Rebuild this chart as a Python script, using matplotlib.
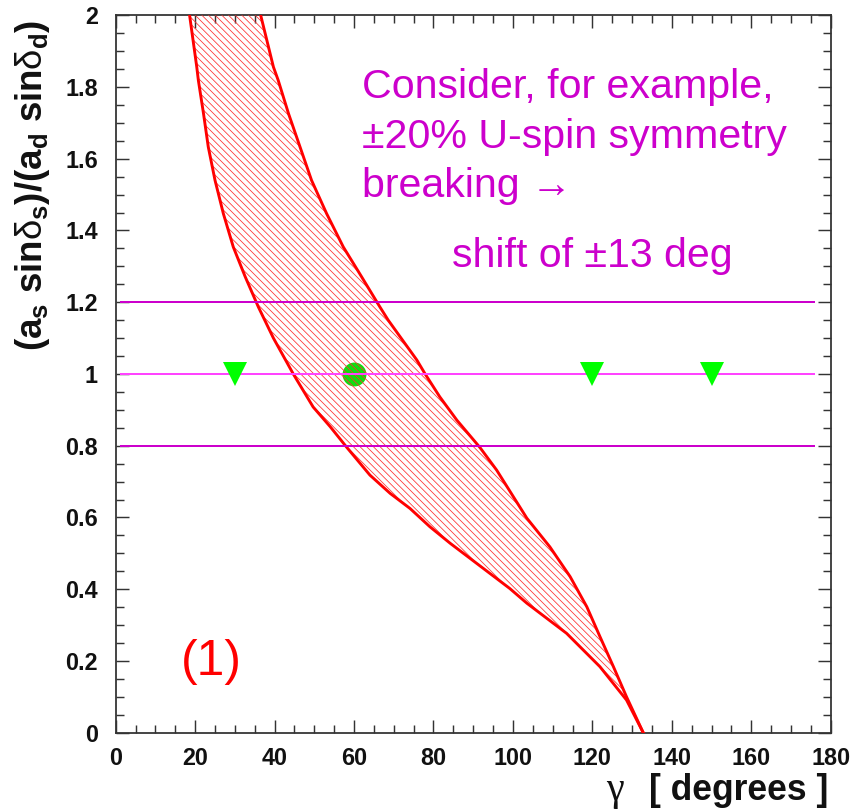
import matplotlib
matplotlib.use("Agg")
import matplotlib.pyplot as plt
from matplotlib.ticker import MultipleLocator

# ---------------- data ----------------
# lower-gamma edge of the band: ratio values and gamma values (degrees)
low_ratio = [2.0, 1.856, 1.819, 1.726, 1.633, 1.540, 1.447, 1.354, 1.271, 1.187,
             1.1, 1.0, 0.908, 0.853, 0.795, 0.718, 0.667, 0.625, 0.574, 0.528,
             0.486, 0.444, 0.402, 0.361, 0.277, 0.184, 0.091, 0.0]
low_gamma = [18.6, 20.4, 20.8, 22.1, 23.3, 25.0, 27.1, 29.6, 32.6, 35.9,
             39.7, 44.7, 49.7, 54.0, 58.2, 64.0, 69.1, 74.1, 79.1, 84.2,
             89.2, 94.2, 99.2, 103.5, 113.5, 121.9, 128.6, 132.8]
# upper-gamma edge of the band
high_ratio = [2.0, 1.856, 1.819, 1.726, 1.633, 1.540, 1.447, 1.354, 1.271, 1.187,
              1.150, 1.039, 1.0, 0.936, 0.871, 0.795, 0.732, 0.598, 0.518, 0.435,
              0.351, 0.268, 0.184, 0.100, 0.0]
high_gamma = [36.5, 39.7, 40.9, 43.5, 46.4, 49.3, 53.1, 57.3, 61.9, 66.5,
              68.6, 75.8, 77.9, 81.6, 85.9, 91.7, 95.9, 103.5, 109.3, 114.4,
              118.6, 121.9, 125.3, 128.6, 132.8]

band_levels = [1.2, 1.0, 0.8]
band_xrange = [1.0, 176.0]
tri_gamma = [30, 120, 150]
tri_ratio = [1.0, 1.0, 1.0]
dot_gamma = [60]
dot_ratio = [1.0]

xticks = [0, 20, 40, 60, 80, 100, 120, 140, 160, 180]
yticks = [0, 0.2, 0.4, 0.6, 0.8, 1.0, 1.2, 1.4, 1.6, 1.8, 2.0]
yticklabels = ["0", "0.2", "0.4", "0.6", "0.8", "1", "1.2", "1.4", "1.6", "1.8", "2"]

note_lines = ["Consider, for example,", "\u00b120% U-spin symmetry", "breaking \u2192"]
note_last = "shift of \u00b113 deg"

# ---------------- style ----------------
DPI = 80
plt.rcParams['font.family'] = ['Liberation Sans', 'DejaVu Sans']
plt.rcParams['mathtext.fontset'] = 'custom'
plt.rcParams['mathtext.rm'] = 'Liberation Sans:bold'
plt.rcParams['mathtext.bf'] = 'Liberation Sans:bold'
plt.rcParams['mathtext.it'] = 'Liberation Sans'
plt.rcParams['hatch.linewidth'] = 0.7

fig = plt.figure(figsize=(854 / DPI, 812 / DPI), dpi=DPI)
ax = fig.add_axes([0.1355, 0.0977, 0.9727 - 0.1355, 0.9812 - 0.0977])

magenta = '#cc00cc'
pink = '#ff44ff'

# green dot (under hatching)
ax.plot(dot_gamma, dot_ratio, 'o', color='#11dd11', markersize=21.5,
        markeredgewidth=0, zorder=2)

# hatched band
poly_x = low_gamma + high_gamma[::-1]
poly_y = low_ratio + high_ratio[::-1]
ax.fill(poly_x, poly_y, facecolor='none', edgecolor='#ff3030',
        hatch='\\\\\\\\', linewidth=0, zorder=3)
ax.plot(low_gamma, low_ratio, color='#ff0000', lw=2.6, zorder=4,
        solid_joinstyle='round')
ax.plot(high_gamma, high_ratio, color='#ff0000', lw=2.6, zorder=4,
        solid_joinstyle='round')

# horizontal lines
for lev in band_levels:
    col = pink if lev == 1.0 else magenta
    ax.hlines(lev, band_xrange[0], band_xrange[1], colors=col, lw=1.8, zorder=5)

# triangles
ax.plot(tri_gamma, tri_ratio, 'v', color='#00ff00', markersize=21.5,
        markeredgewidth=0, zorder=6)

ax.set_xlim(0, 180)
ax.set_ylim(0, 2)
ax.set_xticks(xticks)
ax.set_xticklabels([str(t) for t in xticks])
ax.set_yticks(yticks)
ax.set_yticklabels(yticklabels)
ax.xaxis.set_minor_locator(MultipleLocator(5))
ax.yaxis.set_minor_locator(MultipleLocator(0.05))

tick_col = '#333333'
ax.tick_params(which='both', direction='in', top=True, right=True,
               color=tick_col, width=1.3)
ax.tick_params(which='major', length=11.5)
ax.tick_params(which='minor', length=6.8)
ax.tick_params(axis='y', which='major', pad=16, labelsize=21)
ax.tick_params(axis='x', which='major', pad=13, labelsize=21)
for lab in ax.get_xticklabels() + ax.get_yticklabels():
    lab.set_fontweight('bold')
    lab.set_color('#111111')
for sp in ax.spines.values():
    sp.set_color(tick_col)
    sp.set_linewidth(1.6)

# annotations
tx = 61.9
ax.text(tx, 1.769, note_lines[0], color=magenta, fontsize=37, va='baseline', ha='left')
ax.text(tx, 1.630, note_lines[1], color=magenta, fontsize=37, va='baseline', ha='left')
ax.text(tx, 1.494, note_lines[2], color=magenta, fontsize=37, va='baseline', ha='left')
ax.text(84.6, 1.299, note_last, color=magenta, fontsize=37, va='baseline', ha='left')

ax.text(24.2, 0.161, "(1)", color='#ff0000', fontsize=45, va='baseline', ha='center')

# axis titles
fig.text(828 / 854, 1 - 800 / 812, "[ degrees ]", fontsize=32, fontweight='bold',
         ha='right', va='baseline', color='#111111')
fig.text(606 / 854, 1 - 800 / 812, "\u03b3", fontsize=36,
         family=['Liberation Serif', 'DejaVu Serif'], ha='left', va='baseline',
         color='#111111')
fig.text(33 / 854, 1 - 20 / 812,
         r"(a$_\mathrm{s}$ sin$\delta_\mathrm{s}$)/(a$_\mathrm{d}$ sin$\delta_\mathrm{d}$)",
         fontsize=33, fontweight='bold', rotation=90, ha='center', va='top',
         color='#111111')

fig.savefig("out.png", dpi=DPI)
